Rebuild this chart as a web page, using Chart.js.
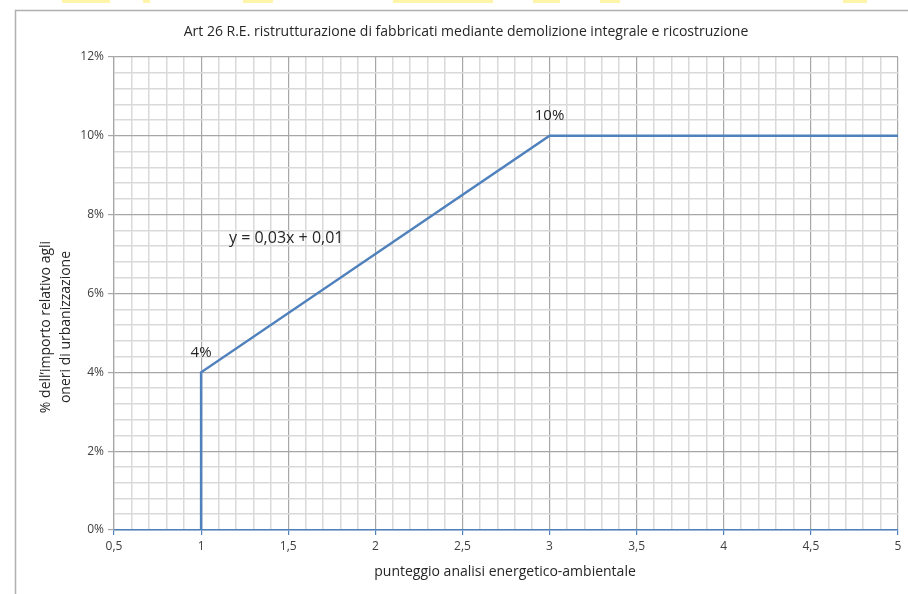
<!DOCTYPE html>
<html>
<head>
<meta charset="utf-8">
<script src="https://cdn.jsdelivr.net/npm/chart.js@4/dist/chart.umd.min.js"></script>
<style>
  html, body { margin: 0; padding: 0; background: #fff; }
  #wrap { width: 908px; height: 594px; }
</style>
</head>
<body>
<div id="wrap"><canvas id="chart" width="908" height="594"></canvas></div>
<script>
// data (x = punteggio, y = % importo)
const xValues = [1, 1, 3, 5];
const yValues = [0, 4, 10, 10];
const pointLabels = ["", "4%", "10%", ""];
const equationText = "y = 0,03x + 0,01";

const titleText = "Art 26 R.E. ristrutturazione di fabbricati mediante demolizione integrale e ricostruzione";
const xTitle = "punteggio analisi energetico-ambientale";
const yTitle = ["% dell\u2019importo relativo agli", "oneri di urbanizzazione"];

const xMin = 0.5, xMax = 5, xStep = 0.1, xMajor = 0.5;
const yMin = 0, yMax = 12, yStep = 0.4, yMajor = 2;

const fontFam = "'Open Sans', 'Liberation Sans', sans-serif";

function isMajor(v, m) {
  const r = v / m;
  return Math.abs(r - Math.round(r)) < 1e-6;
}

const points = xValues.map((x, i) => ({ x: x, y: yValues[i] }));

// frame, title, axis titles and the labels on the line
const decorPlugin = {
  id: "decor",
  beforeDraw(chart) {
    const ctx = chart.ctx;
    ctx.save();
    ctx.fillStyle = "#fff";
    ctx.fillRect(0, 0, chart.width, chart.height);
    // yellow smudges along the top edge
    ctx.fillStyle = "rgba(255, 238, 110, 0.6)";
    [[62, 110], [143, 150], [243, 273], [393, 493], [533, 560], [600, 620], [843, 867]].forEach(s => {
      ctx.fillRect(s[0], 0, s[1] - s[0], 3);
    });
    ctx.strokeStyle = "#b0b0b0";
    ctx.lineWidth = 1.5;
    ctx.strokeRect(15.5, 10.5, 1000, 1000);
    ctx.restore();
  },
  afterDraw(chart) {
    const ctx = chart.ctx;
    const xs = chart.scales.x, ys = chart.scales.y;
    ctx.save();
    ctx.fillStyle = "#262626";
    ctx.textAlign = "center";
    ctx.textBaseline = "middle";
    ctx.font = "14px " + fontFam;
    ctx.fillText(titleText, 466, 32);
    ctx.fillText(xTitle, 505, 572);

    ctx.save();
    ctx.translate(56, 327);
    ctx.rotate(-Math.PI / 2);
    ctx.fillText(yTitle[0], 0, -10);
    ctx.fillText(yTitle[1], 0, 10);
    ctx.restore();

    ctx.font = "15px " + fontFam;
    pointLabels.forEach((t, i) => {
      if (!t) return;
      const px = xs.getPixelForValue(xValues[i]);
      const py = ys.getPixelForValue(yValues[i]);
      ctx.fillText(t, px, py - 20);
    });
    ctx.textAlign = "left";
    ctx.font = "16px " + fontFam;
    ctx.fillText(equationText, xs.getPixelForValue(1.16), ys.getPixelForValue(7.4));
    ctx.restore();
  }
};

new Chart(document.getElementById("chart"), {
  type: "scatter",
  data: {
    datasets: [{
      data: points,
      showLine: true,
      borderColor: "#4f81bd",
      backgroundColor: "#4f81bd",
      borderWidth: 2.5,
      pointRadius: 0,
      tension: 0
    }]
  },
  options: {
    responsive: false,
    animation: false,
    layout: { padding: { left: 0, right: 10, top: 57, bottom: 0 } },
    plugins: {
      legend: { display: false },
      title: { display: false },
      tooltip: { enabled: false }
    },
    scales: {
      x: {
        type: "linear",
        min: xMin,
        max: xMax,
        afterFit(scale) { scale.height = 64; },
        afterBuildTicks(scale) {
          const t = [];
          for (let i = 0; i <= Math.round((xMax - xMin) / xStep); i++) t.push({ value: +(xMin + i * xStep).toFixed(2) });
          scale.ticks = t;
        },
        border: { color: "#4f81bd", width: 1.5 },
        grid: {
          color: c => isMajor(c.tick.value, xMajor) ? "#a6a6a6" : "#d9d9d9",
          lineWidth: c => isMajor(c.tick.value, xMajor) ? 1.2 : 1.5,
          tickColor: c => isMajor(c.tick.value, xMajor) ? "#4f81bd" : "rgba(0,0,0,0)",
          tickLength: 5
        },
        ticks: {
          autoSkip: false,
          maxRotation: 0,
          padding: 4,
          color: "#404040",
          font: { family: fontFam, size: 12 },
          callback: v => isMajor(v, xMajor) ? String(v).replace(".", ",") : ""
        }
      },
      y: {
        type: "linear",
        min: yMin,
        max: yMax,
        afterFit(scale) { scale.width = 114; },
        afterBuildTicks(scale) {
          const t = [];
          for (let i = 0; i <= Math.round((yMax - yMin) / yStep); i++) t.push({ value: +(yMin + i * yStep).toFixed(2) });
          scale.ticks = t;
        },
        border: { color: "#a6a6a6", width: 1.2 },
        grid: {
          color: c => isMajor(c.tick.value, yMajor) ? "#a6a6a6" : "#d9d9d9",
          lineWidth: c => isMajor(c.tick.value, yMajor) ? 1.2 : 1.5,
          tickColor: c => isMajor(c.tick.value, yMajor) ? "#a6a6a6" : "rgba(0,0,0,0)",
          tickLength: 6
        },
        ticks: {
          autoSkip: false,
          padding: 4,
          color: "#404040",
          font: { family: fontFam, size: 12 },
          callback: v => isMajor(v, yMajor) ? Math.round(v) + "%" : ""
        }
      }
    }
  },
  plugins: [decorPlugin]
});
</script>
</body>
</html>
